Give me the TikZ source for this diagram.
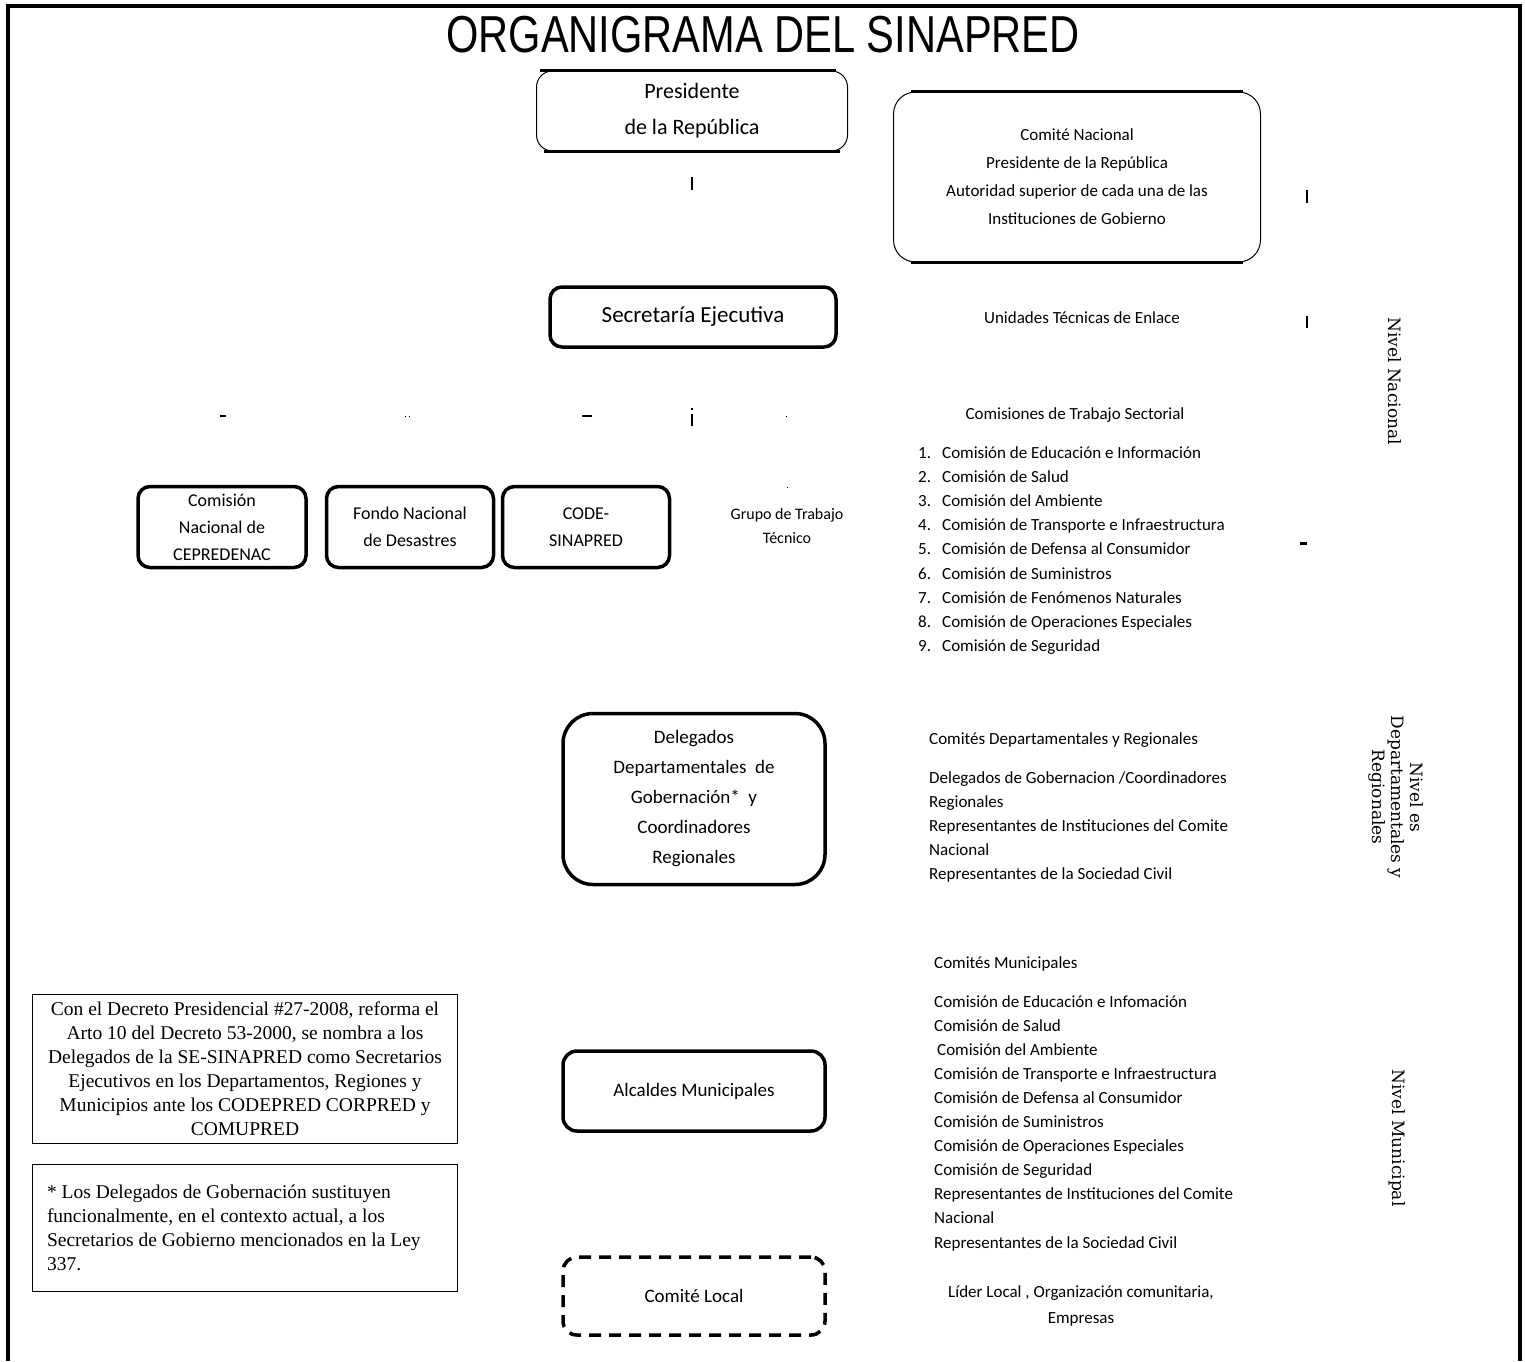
\documentclass[tikz,border=0pt]{standalone}
\usepackage{fontspec}
\setmainfont{Liberation Serif}
\newfontfamily\calfont{Carlito}
\newfontfamily\arialfont{Liberation Sans}
\newfontfamily\slabfont{DejaVu Serif}
\begin{document}
\begin{tikzpicture}[x=1pt,y=-1pt,%
% common options for the framed boxes:
block/.style = {draw, line width=3.5pt, rounded corners=12pt, align=center,
            inner sep=0, font=\calfont\fontsize{18}{27}\selectfont},
% options for the open boxes at the top:
openbox/.style = {draw, line width=1pt, rounded corners=16pt, align=center,
            inner sep=0, font=\calfont\fontsize{17}{28}\selectfont},
% text columns on the right:
col/.style = {align=left, anchor=north west, inner sep=0,
            font=\calfont\fontsize{17}{24.2}\selectfont},
% the two notes and the level labels:
note/.style = {draw, line width=1.5pt, inner sep=0, minimum width=425pt,
            font=\fontsize{19.5}{24}\selectfont},
level/.style = {rotate=-90, align=center, inner sep=0,
            font=\slabfont\fontsize{17}{19}\selectfont},
tick/.style = {line width=1.5pt}]
\useasboundingbox (0,0) rectangle (1525,1361);
\draw[line width=4pt] (8,1361) -- (8,6) -- (1520,6) -- (1520,1361);
\node[anchor=base, inner sep=0, font=\arialfont\fontsize{52}{52}\selectfont] (title) at (763,52)
  {\scalebox{0.8}[1]{ORGANIGRAMA DEL SINAPRED}};
% top level
\node[openbox, minimum width=311pt, minimum height=80pt, font=\calfont\fontsize{22}{36}\selectfont]
  (pres) at (692,111) {Presidente\\de la República};
\draw[line width=2.2pt] ([xshift=4pt]pres.north west) -- ([xshift=-12pt]pres.north east);
\draw[line width=2.2pt] ([xshift=8pt]pres.south west) -- ([xshift=-8pt]pres.south east);
\node[openbox, minimum width=367pt, minimum height=170pt, rounded corners=22pt]
  (comnac) at (1077,177) {Comité Nacional\\Presidente de la República\\
  Autoridad superior de cada una de las\\Instituciones de Gobierno};
\draw[line width=2.2pt] ([xshift=18pt]comnac.north west) -- ([xshift=-18pt]comnac.north east);
\draw[line width=2.2pt] ([xshift=18pt]comnac.south west) -- ([xshift=-18pt]comnac.south east);
\node[block, minimum width=286pt, minimum height=60pt, font=\calfont\fontsize{23}{27}\selectfont]
  (sec) at (693,317) {Secretaría Ejecutiva};
\node[inner sep=0, font=\calfont\fontsize{17}{24}\selectfont] (unid) at (1082,318)
  {Unidades Técnicas de Enlace};
\node[inner sep=0, font=\calfont\fontsize{17}{24}\selectfont] (comtra) at (1075,415)
  {Comisiones de Trabajo Sectorial};
\node[col] (lista) at (918,446) {%
  \makebox[24pt][l]{1.}Comisión de Educación e Información\\
  \makebox[24pt][l]{2.}Comisión de Salud\\
  \makebox[24pt][l]{3.}Comisión del Ambiente\\
  \makebox[24pt][l]{4.}Comisión de Transporte e  Infraestructura\\
  \makebox[24pt][l]{5.}Comisión de Defensa al Consumidor\\
  \makebox[24pt][l]{6.}Comisión de Suministros\\
  \makebox[24pt][l]{7.}Comisión de Fenómenos Naturales\\
  \makebox[24pt][l]{8.}Comisión de Operaciones Especiales\\
  \makebox[24pt][l]{9.}Comisión de Seguridad};
% second row
\node[block, minimum width=168pt, minimum height=81pt] (cep) at (222,527)
  {Comisión\\Nacional de\\CEPREDENAC};
\node[block, minimum width=167pt, minimum height=81pt] (fondo) at (410,527)
  {Fondo Nacional\\de Desastres};
\node[block, minimum width=167pt, minimum height=81pt] (code) at (586,527)
  {CODE-\\SINAPRED};
\node[align=center, inner sep=0, font=\calfont\fontsize{16}{24}\selectfont] (grupo) at (787,526)
  {Grupo de Trabajo\\Técnico};
% remnants of the connectors
\draw[tick] (692,177) -- (692,190);
\draw[tick] (1307,190) -- (1307,203);
\draw[line width=2.5pt] (1307,316) -- (1307,328);
\draw[tick] (220,416) -- (226,416);
\draw[line width=1pt] (405,416) -- (406,416) (409,416) -- (410,416);
\draw[tick] (582,416) -- (592,416);
\draw[line width=2.5pt] (692,414) -- (692,426);
\draw[line width=2.5pt] (692,408) -- (692,410);
\draw[line width=1pt] (786,416) -- (787,416);
\draw[line width=1pt] (787,487) -- (788,487);
\draw[line width=3pt] (1300,543) -- (1307,543);
% departmental level
\node[block, minimum width=262pt, minimum height=171pt, rounded corners=30pt,
  font=\calfont\fontsize{19}{30}\selectfont] (deleg) at (694,799)
  {Delegados\\Departamentales \ de\\Gobernación* \ y\\Coordinadores\\Regionales};
\node[col] (comdep) at (929,732) {Comités Departamentales y Regionales};
\node[col, font=\calfont\fontsize{17}{24.1}\selectfont] (listdep) at (929,771)
  {Delegados de Gobernacion /Coordinadores\\Regionales\\
  Representantes de Instituciones del Comite\\Nacional\\
  Representantes de la Sociedad Civil};
% municipal level
\node[block, minimum width=262pt, minimum height=80pt, rounded corners=14pt,
  font=\calfont\fontsize{19}{27}\selectfont] (alc) at (694,1091) {Alcaldes Municipales};
\node[col] (commun) at (934,956) {Comités Municipales};
\node[col, font=\calfont\fontsize{17}{24.1}\selectfont] (listmun) at (934,995)
  {Comisión de Educación e Infomación\\Comisión de Salud\\
  \hspace{3pt}Comisión del Ambiente\\Comisión de Transporte e Infraestructura\\
  Comisión de Defensa al Consumidor\\Comisión de Suministros\\
  Comisión de Operaciones Especiales\\Comisión de Seguridad\\
  Representantes de Instituciones del Comite\\Nacional\\
  Representantes de la Sociedad Civil};
\node[block, dashed, dash pattern=on 12pt off 8pt, minimum width=262pt, minimum height=78pt,
  rounded corners=14pt, font=\calfont\fontsize{19}{27}\selectfont] (local) at (694,1296)
  {Comité Local};
\node[align=center, inner sep=0, font=\calfont\fontsize{17}{26}\selectfont] (lider) at (1081,1306)
  {Líder Local , Organización comunitaria,\\Empresas};
% notes
\node[note, minimum height=149pt, align=center] (nota) at (245,1069)
  {Con el Decreto Presidencial \#27-2008, reforma el\\
  Arto 10 del Decreto 53-2000, se nombra a los\\
  Delegados de la SE-SINAPRED como Secretarios\\
  Ejecutivos en los Departamentos, Regiones y\\
  Municipios ante los CODEPRED CORPRED y\\COMUPRED};
\node[note, minimum height=127pt, text width=396pt, align=flush left] (notb) at (245,1228)
  {* Los Delegados de Gobernación sustituyen\\
  funcionalmente, en el contexto actual, a los\\
  Secretarios de Gobierno mencionados en la Ley\\337.\\[12pt]};
% levels
\node[level] (nnac) at (1395,381) {Nivel Nacional};
\node[level] (ndep) at (1396,797) {Nivel es\\Departamentales y\\Regionales};
\node[level] (nmun) at (1397,1138) {Nivel Municipal};
\end{tikzpicture}
\end{document}
